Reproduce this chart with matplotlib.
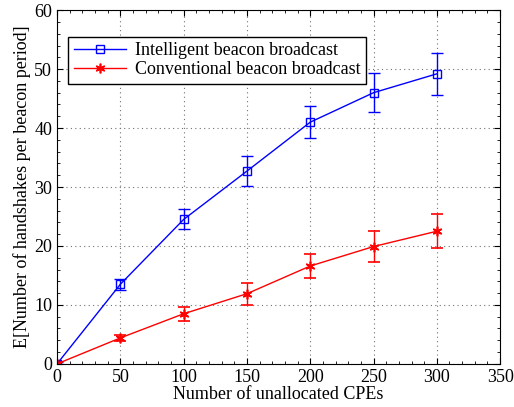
import numpy as np
import matplotlib.pyplot as plt
from matplotlib.ticker import AutoMinorLocator

# data
cpes = [0, 50, 100, 150, 200, 250, 300]
intel = [0, 13.5, 24.5, 32.7, 41.0, 46.0, 49.2]
intel_err = [0.3, 0.9, 1.7, 2.6, 2.7, 3.3, 3.6]
conv = [0, 4.4, 8.5, 11.9, 16.6, 19.9, 22.5]
conv_err = [0.3, 0.5, 1.2, 1.9, 2.1, 2.6, 2.9]

plt.rcParams['font.family'] = ['Liberation Serif', 'DejaVu Serif']
plt.rcParams['font.size'] = 13

fig = plt.figure(figsize=(5.14, 4.07), dpi=100)
ax = fig.add_axes([0.111, 0.106, 0.862, 0.869])

e1 = ax.errorbar(cpes, intel, yerr=intel_err, color='blue', lw=1, marker='s',
                 mfc='none', mec='blue', ms=6, capsize=4,
                 label='Intelligent beacon broadcast')
e2 = ax.errorbar(cpes, conv, yerr=conv_err, color='red', lw=1, marker=(6, 2, 0),
                 mfc='red', mec='red', ms=7, mew=1.2, capsize=4,
                 label='Conventional beacon broadcast')

ax.set_xlim(0, 350)
ax.set_ylim(0, 60)
ax.set_xticks(np.arange(0, 351, 50))
ax.set_yticks(np.arange(0, 61, 10))
ax.xaxis.set_minor_locator(AutoMinorLocator(5))
ax.yaxis.set_minor_locator(AutoMinorLocator(5))
ax.tick_params(which='both', direction='in', top=True, right=True)
ax.tick_params(which='major', length=4, labelsize=13)
ax.tick_params(which='minor', length=2)
ax.grid(True, which='major', linestyle=(0, (1, 3)), color='0.45', lw=0.8)

ax.set_xlabel('Number of unallocated CPEs', fontsize=13, labelpad=0)
ax.set_ylabel('E[Number of handshakes per beacon period]', fontsize=13, labelpad=2)

leg = ax.legend([e1.lines[0], e2.lines[0]],
                ['Intelligent beacon broadcast', 'Conventional beacon broadcast'],
                loc='upper left', bbox_to_anchor=(0.025, 0.924), fontsize=13,
                fancybox=False, edgecolor='black', framealpha=1,
                handlelength=2.9, handletextpad=0.5, borderpad=0.3,
                labelspacing=0.1, borderaxespad=0)
leg.get_frame().set_linewidth(1)

fig.savefig('out.png', dpi=100)
